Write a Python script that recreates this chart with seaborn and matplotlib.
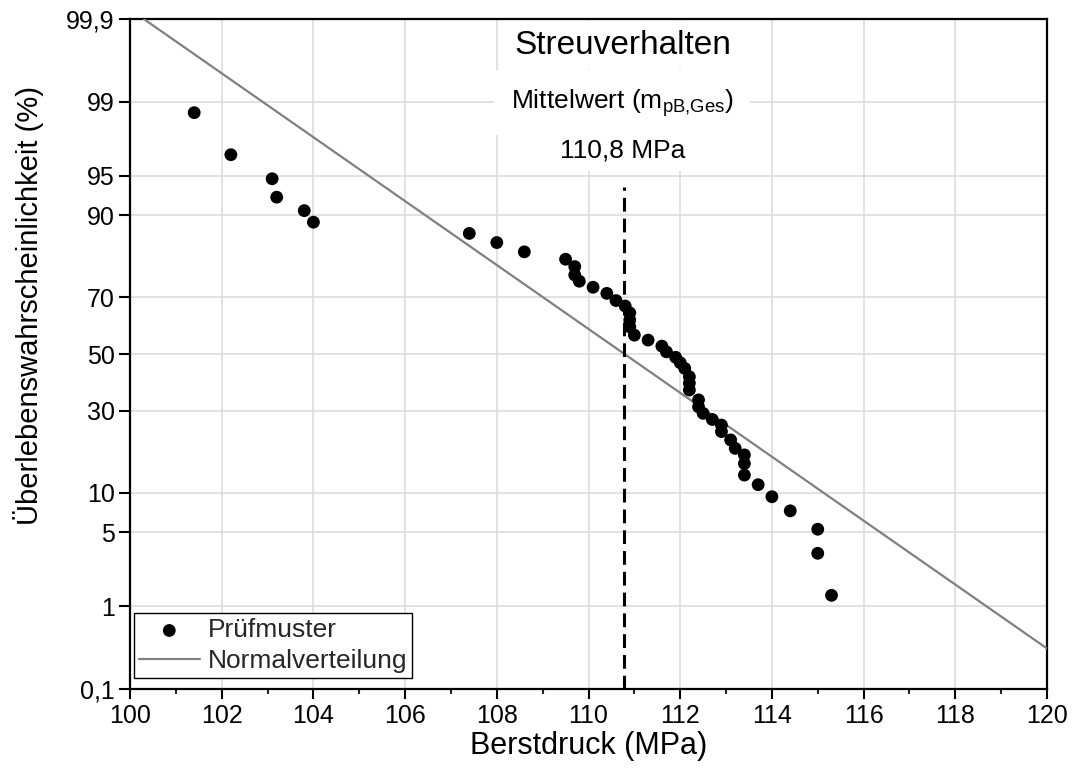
import numpy as np
import pandas as pd
import matplotlib
matplotlib.use('Agg')
import matplotlib.pyplot as plt
import seaborn as sns
from statistics import NormalDist
from matplotlib.ticker import MultipleLocator, FixedLocator

# Prüfmuster: Berstdruck (MPa) und Überlebenswahrscheinlichkeit (%)
berstdruck = [101.4, 102.2, 103.1, 103.2, 103.8, 104.0, 107.4, 108.0, 108.6,
              109.5, 109.7, 109.7, 109.8, 110.1, 110.4, 110.6, 110.8, 110.9,
              110.9, 110.9, 111.0, 111.3, 111.6, 111.7, 111.9, 112.0, 112.1,
              112.2, 112.2, 112.2, 112.4, 112.4, 112.5, 112.7, 112.9, 112.9,
              113.1, 113.2, 113.4, 113.4, 113.4, 113.7, 114.0, 114.4, 115.0,
              115.0, 115.3]
ueberleben = [98.7, 96.7, 94.7, 92.6, 90.7, 88.8, 86.7, 84.8, 82.7,
              80.9, 79.0, 76.7, 74.9, 73.1, 71.2, 68.9, 67.1, 64.8,
              62.3, 59.9, 56.9, 55.1, 52.9, 50.8, 48.8, 46.8, 44.7,
              41.7, 39.4, 37.0, 33.6, 31.3, 29.2, 27.3, 25.6, 23.7,
              21.4, 19.2, 17.6, 15.6, 13.2, 11.4, 9.4, 7.4, 5.3,
              3.3, 1.3]

# Normalverteilung (Gerade im Wahrscheinlichkeitsnetz), Endpunkte
norm_x = [100.3, 120.0]
norm_p = [99.9, 0.33]

mittelwert = 110.77
mittel_oben = 93.8

y_ticks = [0.1, 1, 5, 10, 30, 50, 70, 90, 95, 99, 99.9]
y_labels = ['0,1', '1', '5', '10', '30', '50', '70', '90', '95', '99', '99,9']

df = pd.DataFrame({'Berstdruck': berstdruck, 'Ueberleben': ueberleben})
df_norm = pd.DataFrame({'x': norm_x, 'p': norm_p})

# Wahrscheinlichkeitsskala (Probit)
nd = NormalDist()
_ppf = np.vectorize(lambda v: nd.inv_cdf(v), otypes=[float])
_cdf = np.vectorize(lambda v: nd.cdf(v), otypes=[float])


def probit(p):
    p = np.clip(np.asarray(p, dtype=float) / 100.0, 1e-9, 1 - 1e-9)
    return _ppf(p)


def probit_inv(z):
    return _cdf(np.asarray(z, dtype=float)) * 100.0


sns.set_theme(style='ticks')
plt.rcParams['font.family'] = ['Liberation Sans', 'DejaVu Sans']
plt.rcParams['mathtext.fontset'] = 'custom'
plt.rcParams['mathtext.rm'] = 'Liberation Sans'

fig = plt.figure(figsize=(10.76, 7.69), dpi=100)
ax = fig.add_axes([130 / 1076, 1 - 689 / 769, 917 / 1076, 670 / 769])

sns.scatterplot(data=df, x='Berstdruck', y='Ueberleben', color='black', s=85,
                edgecolor='none', label='Prüfmuster', ax=ax, zorder=4)
sns.lineplot(data=df_norm, x='x', y='p', color='#808080', linewidth=1.6,
             label='Normalverteilung', ax=ax, zorder=3)

ax.set_yscale('function', functions=(probit, probit_inv))
ax.set_ylim(0.1, 99.9)
ax.set_xlim(100, 120)

ax.vlines(mittelwert, 0.1, mittel_oben, colors='black', linewidth=2.2,
          linestyles=(0, (4.5, 2.3)), zorder=3)

ax.yaxis.set_major_locator(FixedLocator(y_ticks))
ax.set_yticklabels(y_labels)
ax.yaxis.set_minor_locator(FixedLocator([]))
ax.xaxis.set_major_locator(MultipleLocator(2))
ax.xaxis.set_minor_locator(MultipleLocator(1))

ax.grid(True, which='major', color='#dadada', linewidth=1.1)
ax.set_axisbelow(True)

for sp in ax.spines.values():
    sp.set_visible(True)
    sp.set_color('black')
    sp.set_linewidth(1.6)

ax.tick_params(axis='x', which='major', direction='out', length=7, width=1.5,
               labelsize=18, colors='black', pad=4)
ax.tick_params(axis='x', which='minor', direction='out', length=3.5, width=1.5)
ax.tick_params(axis='y', which='major', direction='out', length=8, width=1.5,
               labelsize=18, colors='black', pad=3)
ax.tick_params(top=False, right=False)

ax.set_xlabel('Berstdruck (MPa)', fontsize=22, color='black', labelpad=2)
ax.set_ylabel('Überlebenswahrscheinlichkeit (%)', fontsize=21, color='black')
ax.yaxis.set_label_coords(-0.094, 0.572)

box = dict(facecolor='white', edgecolor='none', pad=6)
ax.text(0.537, 0.961, 'Streuverhalten', transform=ax.transAxes, ha='center',
        va='center', fontsize=24, color='black', bbox=box, zorder=5)
ax.text(0.537, 0.875, r'Mittelwert (m$_\mathregular{pB{,}Ges}$)', transform=ax.transAxes,
        ha='center', va='center', fontsize=19, color='black',
        bbox=dict(facecolor='white', edgecolor='none', pad=12), zorder=5)
ax.text(0.537, 0.804, '110,8 MPa', transform=ax.transAxes, ha='center',
        va='center', fontsize=19, color='black', bbox=box, zorder=5)

leg = ax.legend(loc='lower left', bbox_to_anchor=(0.004, 0.016), fontsize=19,
                frameon=True, fancybox=False, edgecolor='black', framealpha=1,
                handlelength=2.3, handletextpad=0.3, borderpad=0.2,
                labelspacing=0.25, borderaxespad=0.0)
leg.get_frame().set_linewidth(1.0)

fig.savefig('out.png', dpi=100)
